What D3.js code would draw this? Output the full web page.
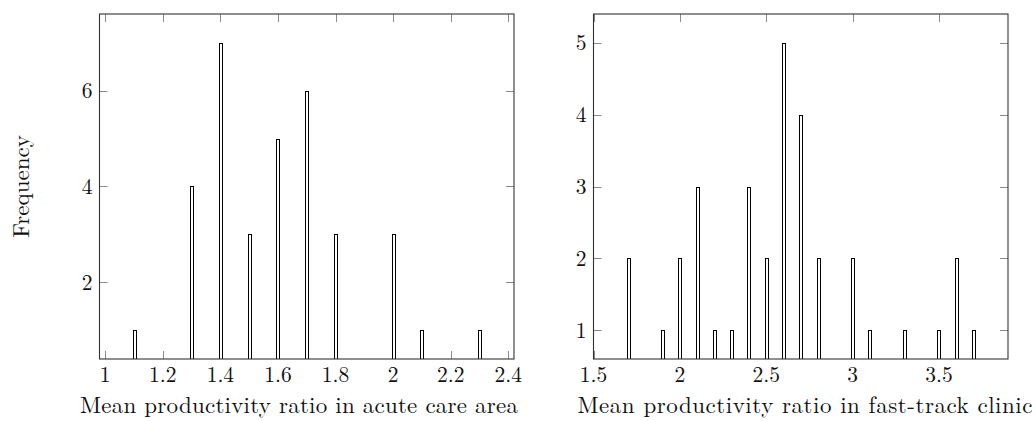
<!DOCTYPE html>
<html>
<head>
<meta charset="utf-8">
<script src="https://cdn.jsdelivr.net/npm/d3@7"></script>
<style>
  html, body { margin: 0; padding: 0; background: #fff; }
  svg { display: block; }
  text { font-family: "Latin Modern Roman", "CMU Serif", "Liberation Serif", serif; fill: #111; }
</style>
</head>
<body>
<svg id="chart" width="1036" height="421"></svg>
<script>
// ---- Data ----
const acuteValues = [1.1, 1.3, 1.4, 1.5, 1.6, 1.7, 1.8, 2.0, 2.1, 2.3];
const acuteCounts = [1, 4, 7, 3, 5, 6, 3, 3, 1, 1];
const fastValues = [1.7, 1.9, 2.0, 2.1, 2.2, 2.3, 2.4, 2.5, 2.6, 2.7, 2.8, 3.0, 3.1, 3.3, 3.5, 3.6, 3.7];
const fastCounts = [2, 1, 2, 3, 1, 1, 3, 2, 5, 4, 2, 2, 1, 1, 1, 2, 1];
const acuteXTicks = [1, 1.2, 1.4, 1.6, 1.8, 2, 2.2, 2.4];
const acuteYTicks = [2, 4, 6];
const fastXTicks = [1.5, 2, 2.5, 3, 3.5];
const fastYTicks = [1, 2, 3, 4, 5];
const yLabel = "Frequency";
const acuteXLabel = "Mean productivity ratio in acute care area";
const fastXLabel = "Mean productivity ratio in fast-track clinic";

const svg = d3.select("#chart");
const plotTop = 14, plotBottom = 359;
const tickLen = 8;
const tickFont = 21.5;
const labelFont = 23;

function enlarged(arr, f) {
  const lo = d3.min(arr), hi = d3.max(arr), r = hi - lo;
  return [lo - f * r, hi + f * r];
}

function panel(opts) {
  const { left, right, xs, ys, xTicks, yTicks, xLabel, labelX, labelLen, showYLabel } = opts;
  const x = d3.scaleLinear().domain(enlarged(xs, 0.1)).range([left, right]);
  const y = d3.scaleLinear().domain(enlarged(ys, 0.1)).range([plotBottom, plotTop]);
  const g = svg.append("g");
  const clipId = "clip" + Math.round(left);
  g.append("clipPath").attr("id", clipId).append("rect")
    .attr("x", left).attr("y", plotTop).attr("width", right - left).attr("height", plotBottom - plotTop);

  // ticks (inside, on all four sides)
  const tg = g.append("g").attr("stroke", "#8a8a8a").attr("stroke-width", 1);
  xTicks.forEach(t => {
    const px = Math.round(x(t)) + 0.5;
    tg.append("line").attr("x1", px).attr("x2", px).attr("y1", plotBottom).attr("y2", plotBottom - tickLen);
    tg.append("line").attr("x1", px).attr("x2", px).attr("y1", plotTop).attr("y2", plotTop + tickLen);
  });
  yTicks.forEach(t => {
    const py = Math.round(y(t)) + 0.5;
    tg.append("line").attr("x1", left).attr("x2", left + tickLen).attr("y1", py).attr("y2", py);
    tg.append("line").attr("x1", right).attr("x2", right - tickLen).attr("y1", py).attr("y2", py);
  });

  // bars
  const bw = 3;
  g.append("g").attr("clip-path", `url(#${clipId})`)
    .selectAll("rect").data(xs.map((v, i) => ({ v, c: ys[i] }))).join("rect")
    .attr("x", d => Math.round(x(d.v) - bw / 2) + 0.5)
    .attr("y", d => Math.round(y(d.c)) + 0.5)
    .attr("width", bw)
    .attr("height", d => plotBottom + 2 - Math.round(y(d.c)))
    .attr("fill", "#fff").attr("stroke", "#000").attr("stroke-width", 1);

  // frame
  g.append("rect").attr("x", left).attr("y", plotTop).attr("width", right - left).attr("height", plotBottom - plotTop)
    .attr("fill", "none").attr("stroke", "#333").attr("stroke-width", 1.1);

  // tick labels
  const tfmt = d => String(d);
  g.append("g").selectAll("text").data(xTicks).join("text")
    .attr("x", d => x(d)).attr("y", plotBottom + 23)
    .attr("text-anchor", "middle").attr("font-size", tickFont).text(tfmt);
  g.append("g").selectAll("text").data(yTicks).join("text")
    .attr("x", left - 7).attr("y", d => y(d)).attr("dy", "0.35em")
    .attr("text-anchor", "end").attr("font-size", tickFont).text(tfmt);

  // axis labels
  g.append("text").attr("x", labelX).attr("y", plotBottom + 54)
    .attr("text-anchor", "middle").attr("font-size", labelFont)
    .attr("textLength", labelLen).attr("lengthAdjust", "spacing").text(xLabel);
  if (showYLabel) {
    g.append("text").attr("transform", `translate(29,${(plotTop + plotBottom) / 2}) rotate(-90)`)
      .attr("text-anchor", "middle").attr("font-size", labelFont).text(yLabel);
  }
}

panel({ left: 99.5, right: 514, xs: acuteValues, ys: acuteCounts, xTicks: acuteXTicks, yTicks: acuteYTicks, xLabel: acuteXLabel, labelX: 299, labelLen: 438, showYLabel: true });
panel({ left: 593.5, right: 1008, xs: fastValues, ys: fastCounts, xTicks: fastXTicks, yTicks: fastYTicks, xLabel: fastXLabel, labelX: 805, labelLen: 455, showYLabel: false });
</script>
</body>
</html>
